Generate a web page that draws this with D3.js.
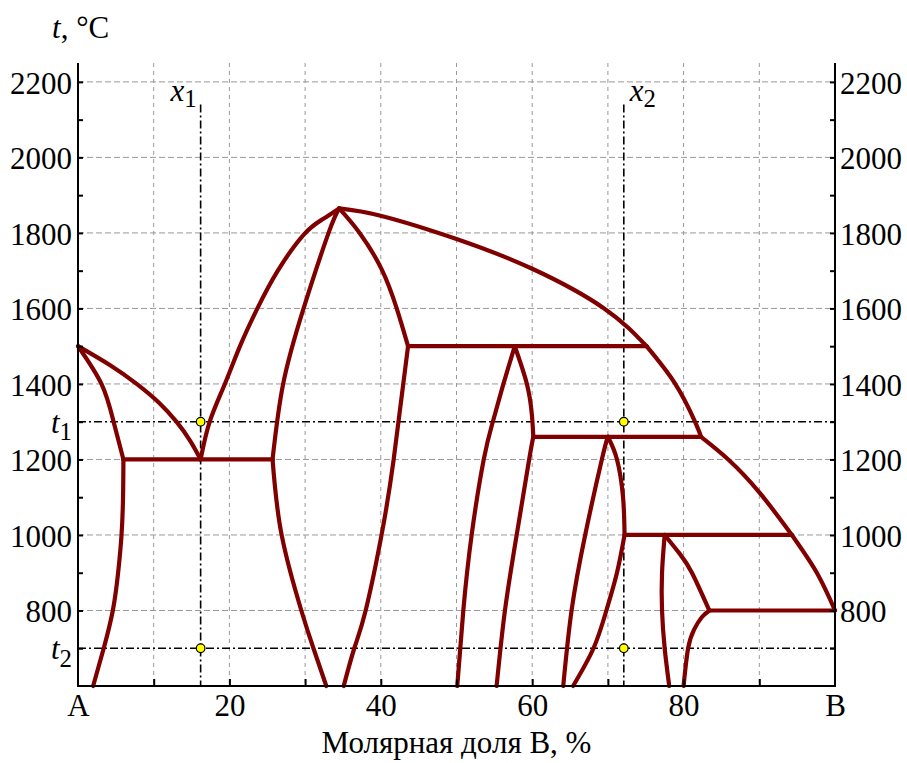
<!DOCTYPE html>
<html>
<head>
<meta charset="utf-8">
<script src="https://cdn.jsdelivr.net/npm/d3@7"></script>
<style>
  body { margin: 0; background: #fff; }
  svg { display: block; }
</style>
</head>
<body>
<script>
// ---- Phase diagram data: composition (mol % B), temperature (°C) ----
// Boundary curves
const solidusA      = [[0,1500],[3.1,1400],[4.7,1300],[6,1200]];
const liquidusA     = [[0,1500],[4.2,1450],[7.75,1400],[10.7,1350],[13,1300],[14.8,1250],[16.2,1200]];
const solvusA       = [[6,1200],[5.95,1100],[5.75,1000],[5.3,900],[4.6,800],[3.4,700],[2.0,600]];
const liquidusCLeft = [[16.2,1200],[17.4,1300],[19.4,1400],[21.4,1500],[23.7,1600],[26.4,1700],[29.8,1795],[32.3,1836],[34.5,1865]];
const phaseCLeft    = [[25.7,1200],[27.1,1400],[29.8,1600],[33.1,1800],[34.5,1865]];
const phaseCRight   = [[34.5,1865],[37.2,1800],[40.1,1704],[42.1,1600],[43.6,1500]];
const phaseCLeftLow = [[25.7,1200],[26.9,1000],[29.5,800],[31.1,700],[32.8,600]];
const phaseCRightLow= [[43.6,1500],[41.7,1200],[40.1,1000],[38.0,800],[36.5,700],[35.1,600]];
const liquidusB1    = [[34.5,1865],[40.1,1845],[50,1784],[60,1705],[69.5,1600],[75.1,1500]];
const liquidusB2    = [[75.1,1500],[78.9,1400],[81.5,1300],[82.3,1260]];
const liquidusB3    = [[82.3,1260],[85.9,1200],[90,1113],[94.3,1000]];
const liquidusB4    = [[94.3,1000],[97.6,900],[100,800]];
const phaseDLeft    = [[57.7,1500],[56.2,1400],[54.8,1300],[53.6,1200],[52.0,1000],[50.9,800],[50.1,600]];
const phaseDRight   = [[57.7,1500],[59.3,1400],[59.95,1320],[60.15,1260]];
const phaseELow     = [[60.15,1260],[59.6,1200],[57.95,1000],[56.4,800],[55.3,600]];
const phaseFLeft    = [[70,1260],[69.2,1200],[67.0,1000],[65.2,800],[64.1,600]];
const phaseFRight   = [[70,1260],[71.2,1200],[72.0,1100],[72.2,1000]];
const phaseGLow     = [[72.2,1000],[71.2,900],[69.8,800],[68.1,700],[65.4,600]];
const phaseHLeft    = [[77.5,1000],[77.15,900],[77.15,800],[77.5,700],[78.1,600]];
const phaseHRight   = [[77.5,1000],[79.5,950],[81.1,900],[83.4,800]];
const phaseILow     = [[83.4,800],[82.4,782],[81.4,750],[80.6,700],[80.0,600]];

// Invariant (horizontal) lines
const eutectic1200  = [[6,1200],[25.7,1200]];
const peritectic1500= [[43.6,1500],[75.1,1500]];
const peritectic1260= [[60.15,1260],[82.3,1260]];
const peritectic1000= [[72.2,1000],[94.3,1000]];
const eutectoid800  = [[83.4,800],[100,800]];

const curves = [solidusA, liquidusA, solvusA, liquidusCLeft, phaseCLeft, phaseCRight,
  phaseCLeftLow, phaseCRightLow, liquidusB1, liquidusB2, liquidusB3, liquidusB4, phaseDLeft,
  phaseDRight, phaseELow, phaseFLeft, phaseFRight, phaseGLow, phaseHLeft, phaseHRight, phaseILow];
const tieLines = [eutectic1200, peritectic1500, peritectic1260, peritectic1000, eutectoid800];

// Section lines and temperatures
const x1 = 16.2, x2 = 72.1;
const t1 = 1300, t2 = 700;
const sectionTop = 2140;
const markers = [[x1,t1],[x1,t2],[x2,t1],[x2,t2]];

// Axis ticks
const xTickValues = [0,20,40,60,80,100];
const xTickLabels = ["A","20","40","60","80","B"];
const xMinorTicks = [10,20,30,40,50,60,70,80,90];
const yMajorTicks = [800,1000,1200,1400,1600,1800,2000,2200];
const yMinorTicks = [700,900,1100,1300,1500,1700,1900,2100];
const yGrid = [800,1000,1200,1400,1600,1800,2000,2200];
const xGrid = [10,20,30,40,50,60,70,80,90];

// ---- Layout ----
const W = 907, H = 763;
const pL = 78, pR = 835, pT = 63, pB = 686;
const FS = 31;
const SERIF = '"Liberation Serif", "DejaVu Serif", serif';

const x = d3.scaleLinear().domain([0,100]).range([pL, pR]);
const y = d3.scaleLinear().domain([600,2250]).range([pB, pT]);

const svg = d3.select("body").append("svg").attr("width", W).attr("height", H)
  .attr("font-family", SERIF);

// Grid
const grid = svg.append("g").attr("stroke", "#999").attr("stroke-width", 1).attr("fill", "none");
grid.selectAll(".gx").data(xGrid).join("line")
  .attr("x1", d => x(d)).attr("x2", d => x(d)).attr("y1", pT).attr("y2", pB)
  .attr("stroke-dasharray", "4,4");
grid.selectAll(".gy").data(yGrid).join("line")
  .attr("x1", pL).attr("x2", pR).attr("y1", d => y(d)).attr("y2", d => y(d))
  .attr("stroke-dasharray", "6,3");

// Section lines (dash-dot)
const dd = svg.append("g").attr("stroke", "#000").attr("stroke-width", 1.6)
  .attr("stroke-dasharray", "8,3,2,3").attr("fill", "none");
[t1, t2].forEach(t => dd.append("line")
  .attr("x1", pL).attr("x2", pR).attr("y1", y(t)).attr("y2", y(t)));
[x1, x2].forEach(c => dd.append("line")
  .attr("x1", x(c)).attr("x2", x(c)).attr("y1", y(sectionTop)).attr("y2", pB));

// Phase boundaries: smooth natural splines through the read points
const curveLine = d3.line().x(d => x(d[0])).y(d => y(d[1])).curve(d3.curveNatural);
const straight = d3.line().x(d => x(d[0])).y(d => y(d[1]));

const bg = svg.append("g").attr("fill", "none").attr("stroke", "#800000").attr("stroke-width", 4.2)
  .attr("stroke-linecap", "round").attr("stroke-linejoin", "round");
bg.selectAll(".c").data(curves).join("path").attr("d", curveLine);
bg.selectAll(".tl").data(tieLines).join("path").attr("d", straight);

// Markers
svg.append("g").selectAll("circle").data(markers).join("circle")
  .attr("cx", d => x(d[0])).attr("cy", d => y(d[1])).attr("r", 4.3)
  .attr("fill", "#ffff00").attr("stroke", "#000").attr("stroke-width", 1.2);

// Axes
function styleAxis(g) {
  g.attr("font-family", SERIF).attr("font-size", FS);
  g.selectAll("path.domain").attr("stroke", "#000").attr("stroke-width", 2);
  g.selectAll(".tick line").attr("stroke", "#000").attr("stroke-width", 2);
  g.selectAll("text").attr("fill", "#000");
}
const yLeft = svg.append("g").attr("transform", `translate(${pL},0)`)
  .call(d3.axisLeft(y).tickValues(yMajorTicks).tickSizeInner(-5).tickSizeOuter(0).tickPadding(6).tickFormat(d3.format("d")));
yLeft.select("path.domain").attr("d", `M0,${pT}V${pB}`);
yLeft.selectAll("text").attr("dy", "0.36em");
styleAxis(yLeft);
svg.append("g").attr("transform", `translate(${pL},0)`)
  .call(d3.axisLeft(y).tickValues(yMinorTicks).tickSizeInner(-5).tickSizeOuter(0).tickFormat(""))
  .call(g => g.select("path.domain").remove()).call(styleAxis);

const yRight = svg.append("g").attr("transform", `translate(${pR},0)`)
  .call(d3.axisRight(y).tickValues(yMajorTicks).tickSizeInner(-5).tickSizeOuter(0).tickPadding(5).tickFormat(d3.format("d")));
yRight.select("path.domain").attr("d", `M0,${pT}V${pB}`);
yRight.selectAll("text").attr("dy", "0.36em");
styleAxis(yRight);
svg.append("g").attr("transform", `translate(${pR},0)`)
  .call(d3.axisRight(y).tickValues(yMinorTicks).tickSizeInner(-5).tickSizeOuter(0).tickFormat(""))
  .call(g => g.select("path.domain").remove()).call(styleAxis);

const xAxis = svg.append("g").attr("transform", `translate(0,${pB})`)
  .call(d3.axisBottom(x).tickValues(xTickValues).tickSizeInner(0).tickSizeOuter(0).tickPadding(8)
    .tickFormat((d, i) => xTickLabels[i]));
xAxis.select("path.domain").attr("d", `M${pL - 1},0H${pR + 1}`);
styleAxis(xAxis);
svg.append("g").attr("transform", `translate(0,${pB})`)
  .call(d3.axisBottom(x).tickValues(xMinorTicks).tickSizeInner(-7).tickSizeOuter(0).tickFormat(""))
  .call(g => g.select("path.domain").remove()).call(styleAxis);

// Temperature labels t1, t2 on the left axis
[[t1, "1"], [t2, "2"]].forEach(([t, s]) => {
  const tx = svg.append("text").attr("x", pL - 6).attr("y", y(t)).attr("dy", "0.36em")
    .attr("text-anchor", "end").attr("font-size", FS);
  tx.append("tspan").attr("font-style", "italic").text("t");
  tx.append("tspan").attr("font-size", FS * 0.8).attr("dy", "0.3em").text(s);
});

// Section labels x1, x2
function sectionLabel(px, anchor, sub) {
  const tx = svg.append("text").attr("x", px).attr("y", 101).attr("text-anchor", anchor).attr("font-size", FS);
  tx.append("tspan").attr("font-style", "italic").text("x");
  tx.append("tspan").attr("font-size", FS * 0.8).attr("dy", "0.25em").text(sub);
}
sectionLabel(x(x1) - 4, "end", "1");
sectionLabel(x(x2) + 6, "start", "2");

// Axis titles
const yt = svg.append("text").attr("x", 52).attr("y", 38).attr("font-size", FS);
yt.append("tspan").attr("font-style", "italic").text("t");
yt.append("tspan").text(", °C");

svg.append("text").attr("x", (pL + pR) / 2).attr("y", 753).attr("text-anchor", "middle")
  .attr("font-size", FS).text("Молярная доля B, %");
</script>
</body>
</html>
